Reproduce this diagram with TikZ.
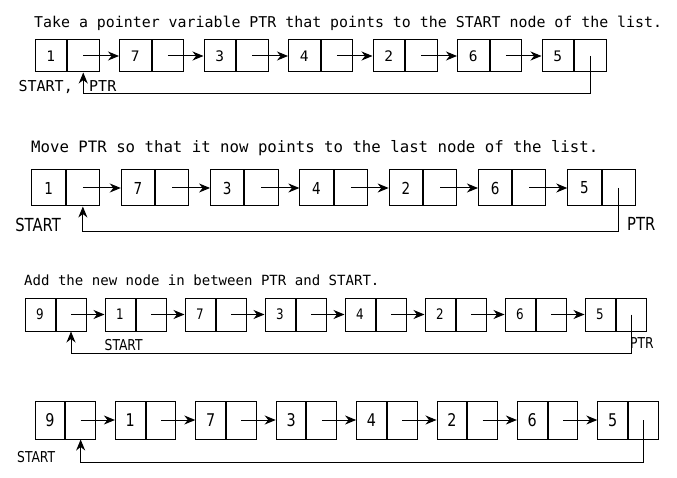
\documentclass[tikz,border=0pt]{standalone}
\usepackage{fontspec}
\newfontfamily\monofont{DejaVu Sans Mono}
\newfontfamily\narrowfont[FakeStretch=0.82]{DejaVu Sans}
\usetikzlibrary{positioning,arrows.meta}

\begin{document}
\begin{tikzpicture}[x=1pt,y=-1pt]

\tikzstyle{cell}=[rectangle,draw,line width=1pt,minimum width=\cellw,minimum height=\cellh,inner sep=0pt,font=\cellfont]
\tikzstyle{link}=[-{Stealth[length=11pt,width=9pt,inset=3.5pt]},line width=1pt]
\tikzstyle{title}=[inner sep=0pt,anchor=base west,font=\monofont\fontsize{15}{18}\selectfont]
\tikzstyle{lbl}=[inner sep=0pt,font=\narrowfont\fontsize{16}{18}\selectfont]

\useasboundingbox (0,0) rectangle (677,478);

%first step
\def\cellw{31.5pt}\def\cellh{32pt}
\def\horispace{84.5}\def\startx{50.75}\def\rowy{56}
\def\cellfont{\monofont\fontsize{14.5}{16}\selectfont}
\node[title,font=\monofont\fontsize{14.9}{18}\selectfont] (t1) at (34,28) {Take a pointer variable PTR that points to the START node of the list.};
\node[cell] (a1) at (\startx+0*\horispace,\rowy) {1};
\node[cell,right=0pt of a1] (a1n) {};
\node[cell] (a2) at (\startx+1*\horispace,\rowy) {7};
\node[cell,right=0pt of a2] (a2n) {};
\node[cell] (a3) at (\startx+2*\horispace,\rowy) {3};
\node[cell,right=0pt of a3] (a3n) {};
\node[cell] (a4) at (\startx+3*\horispace,\rowy) {4};
\node[cell,right=0pt of a4] (a4n) {};
\node[cell] (a5) at (\startx+4*\horispace,\rowy) {2};
\node[cell,right=0pt of a5] (a5n) {};
\node[cell] (a6) at (\startx+5*\horispace,\rowy) {6};
\node[cell,right=0pt of a6] (a6n) {};
\node[cell] (a7) at (\startx+6*\horispace,\rowy) {5};
\node[cell,right=0pt of a7] (a7n) {};

\draw[link] (a1n.center) -- (a2.west);
\draw[link] (a2n.center) -- (a3.west);
\draw[link] (a3n.center) -- (a4.west);
\draw[link] (a4n.center) -- (a5.west);
\draw[link] (a5n.center) -- (a6.west);
\draw[link] (a6n.center) -- (a7.west);
\coordinate (back1) at (a1n.center |- 0,94);
\draw[link] (a7n.center) |- (back1) -- (a1n.south);
\node[lbl,anchor=base east,font=\monofont\fontsize{15}{18}\selectfont] (start1) at (73,92) {START,};
\node[lbl,anchor=base west,font=\monofont\fontsize{15}{18}\selectfont] (ptr1) at (89,92) {PTR};

%second step
\def\cellw{33.25pt}\def\cellh{36pt}
\def\horispace{89.3}\def\startx{48.6}\def\rowy{188}
\def\cellfont{\narrowfont\fontsize{16.5}{18}\selectfont}
\node[title,font=\monofont\fontsize{15.7}{18}\selectfont] (t2) at (31,153) {Move PTR so that it now points to the last node of the list.};
\node[cell] (b1) at (\startx+0*\horispace,\rowy) {1};
\node[cell,right=0pt of b1] (b1n) {};
\node[cell] (b2) at (\startx+1*\horispace,\rowy) {7};
\node[cell,right=0pt of b2] (b2n) {};
\node[cell] (b3) at (\startx+2*\horispace,\rowy) {3};
\node[cell,right=0pt of b3] (b3n) {};
\node[cell] (b4) at (\startx+3*\horispace,\rowy) {4};
\node[cell,right=0pt of b4] (b4n) {};
\node[cell] (b5) at (\startx+4*\horispace,\rowy) {2};
\node[cell,right=0pt of b5] (b5n) {};
\node[cell] (b6) at (\startx+5*\horispace,\rowy) {6};
\node[cell,right=0pt of b6] (b6n) {};
\node[cell] (b7) at (\startx+6*\horispace,\rowy) {5};
\node[cell,right=0pt of b7] (b7n) {};

\draw[link] (b1n.center) -- (b2.west);
\draw[link] (b2n.center) -- (b3.west);
\draw[link] (b3n.center) -- (b4.west);
\draw[link] (b4n.center) -- (b5.west);
\draw[link] (b5n.center) -- (b6.west);
\draw[link] (b6n.center) -- (b7.west);
\coordinate (back2) at (b1n.center |- 0,232);
\draw[link] (b7n.center) |- (back2) -- (b1n.south);
\node[lbl,anchor=base east,font=\narrowfont\fontsize{18}{18}\selectfont] (start2) at (61,232) {START};
\node[lbl,anchor=base west,font=\narrowfont\fontsize{18}{18}\selectfont] (ptr2) at (627,231) {PTR};

%third step
\def\cellw{30pt}\def\cellh{33pt}
\def\horispace{80}\def\startx{40}\def\rowy{314.5}
\def\cellfont{\narrowfont\fontsize{14.5}{16}\selectfont}
\node[title,font=\monofont\fontsize{14.05}{18}\selectfont] (t3) at (24,286) {Add the new node in between PTR and START.};
\node[cell] (c1) at (\startx+0*\horispace,\rowy) {9};
\node[cell,right=0pt of c1] (c1n) {};
\node[cell] (c2) at (\startx+1*\horispace,\rowy) {1};
\node[cell,right=0pt of c2] (c2n) {};
\node[cell] (c3) at (\startx+2*\horispace,\rowy) {7};
\node[cell,right=0pt of c3] (c3n) {};
\node[cell] (c4) at (\startx+3*\horispace,\rowy) {3};
\node[cell,right=0pt of c4] (c4n) {};
\node[cell] (c5) at (\startx+4*\horispace,\rowy) {4};
\node[cell,right=0pt of c5] (c5n) {};
\node[cell] (c6) at (\startx+5*\horispace,\rowy) {2};
\node[cell,right=0pt of c6] (c6n) {};
\node[cell] (c7) at (\startx+6*\horispace,\rowy) {6};
\node[cell,right=0pt of c7] (c7n) {};
\node[cell] (c8) at (\startx+7*\horispace,\rowy) {5};
\node[cell,right=0pt of c8] (c8n) {};

\draw[link] (c1n.center) -- (c2.west);
\draw[link] (c2n.center) -- (c3.west);
\draw[link] (c3n.center) -- (c4.west);
\draw[link] (c4n.center) -- (c5.west);
\draw[link] (c5n.center) -- (c6.west);
\draw[link] (c6n.center) -- (c7.west);
\draw[link] (c7n.center) -- (c8.west);
\coordinate (back3) at (c1n.center |- 0,353);
\draw[link] (c8n.center) |- (back3) -- (c1n.south);
\node[lbl,anchor=base west,font=\narrowfont\fontsize{15}{18}\selectfont] (start3) at (104.5,350) {START};
\node[lbl,anchor=base west,font=\narrowfont\fontsize{15}{18}\selectfont] (ptr3) at (630,348) {PTR};

%fourth step
\def\cellw{29.75pt}\def\cellh{38pt}
\def\horispace{80.4}\def\startx{49.9}\def\rowy{420}
\def\cellfont{\narrowfont\fontsize{17.5}{18}\selectfont}
\node[cell] (d1) at (\startx+0*\horispace,\rowy) {9};
\node[cell,right=0pt of d1] (d1n) {};
\node[cell] (d2) at (\startx+1*\horispace,\rowy) {1};
\node[cell,right=0pt of d2] (d2n) {};
\node[cell] (d3) at (\startx+2*\horispace,\rowy) {7};
\node[cell,right=0pt of d3] (d3n) {};
\node[cell] (d4) at (\startx+3*\horispace,\rowy) {3};
\node[cell,right=0pt of d4] (d4n) {};
\node[cell] (d5) at (\startx+4*\horispace,\rowy) {4};
\node[cell,right=0pt of d5] (d5n) {};
\node[cell] (d6) at (\startx+5*\horispace,\rowy) {2};
\node[cell,right=0pt of d6] (d6n) {};
\node[cell] (d7) at (\startx+6*\horispace,\rowy) {6};
\node[cell,right=0pt of d7] (d7n) {};
\node[cell] (d8) at (\startx+7*\horispace,\rowy) {5};
\node[cell,right=0pt of d8] (d8n) {};

\draw[link] (d1n.center) -- (d2.west);
\draw[link] (d2n.center) -- (d3.west);
\draw[link] (d3n.center) -- (d4.west);
\draw[link] (d4n.center) -- (d5.west);
\draw[link] (d5n.center) -- (d6.west);
\draw[link] (d6n.center) -- (d7.west);
\draw[link] (d7n.center) -- (d8.west);
\coordinate (back4) at (d1n.center |- 0,462);
\draw[link] (d8n.center) |- (back4) -- (d1n.south);
\node[lbl,anchor=base west,font=\narrowfont\fontsize{15}{18}\selectfont] (start4) at (17,462) {START};

\end{tikzpicture}
\end{document}
